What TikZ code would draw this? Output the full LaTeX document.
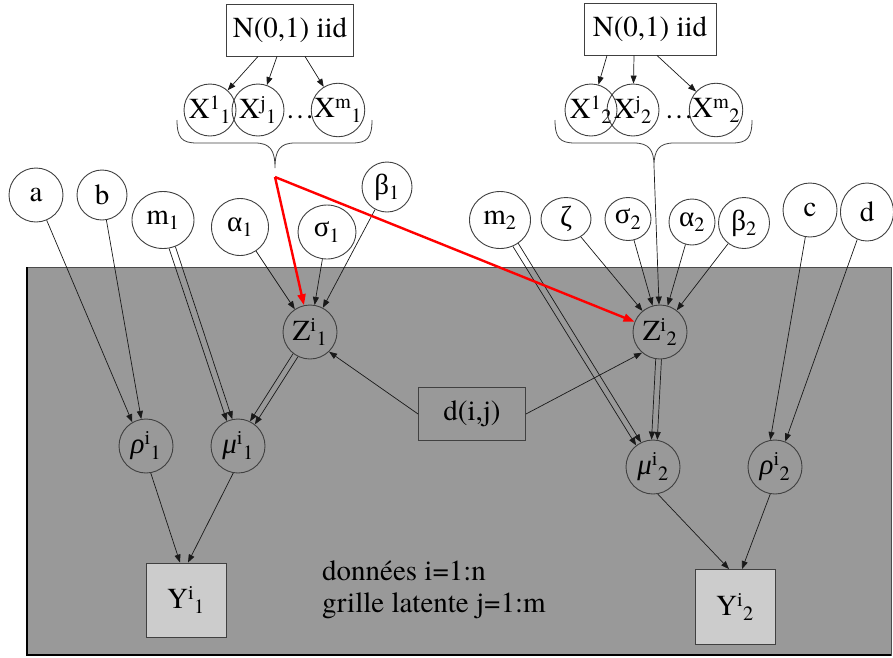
\documentclass[tikz,border=0pt]{standalone}
\usepackage{fontspec}
\setmainfont{texgyretermes}[Extension=.otf,UprightFont=*-regular,ItalicFont=*-italic,BoldFont=*-bold]
\newfontfamily\grk{Liberation Serif}
\usetikzlibrary{shapes.geometric,arrows.meta,calc}
\definecolor{bgray}{HTML}{999999}
\definecolor{ygray}{HTML}{CCCCCC}
\definecolor{edgec}{HTML}{404040}
\tikzset{
  cn/.style={circle,draw=edgec,line width=0.9pt,inner sep=0pt,minimum size=#1},
  en/.style 2 args={ellipse,draw=edgec,line width=0.9pt,inner sep=0pt,minimum width=#1,minimum height=#2},
  bx/.style={draw=edgec,line width=0.9pt,inner sep=0pt},
  ar/.style={-{Triangle[length=8pt,width=6pt]},line width=0.7pt,black!90},
  redar/.style={-{Triangle[length=11pt,width=8pt]},line width=2.4pt,red},
  bracec/.style={line width=0.8pt,edgec}
}
\begin{document}
\begin{tikzpicture}[x=1pt,y=-1pt,font=\fontsize{29}{32}\selectfont]
\useasboundingbox (0,0) rectangle (893,657);
% background panel
\fill[bgray] (27,267) rectangle (891,655);
\draw[line width=0.8pt,black!70] (27,267) rectangle (891,655);
\draw[line width=1.6pt,black] (27,267) -- (27,655) -- (891,655);

% top boxes
\node[bx,minimum width=127pt,minimum height=52pt] (N1) at (290,30) {N(0,1) iid};
\node[bx,minimum width=132pt,minimum height=52pt] (N2) at (650,29) {N(0,1) iid};

% X nodes
\node[cn=52pt] (x11) at (210,110) {X\textsuperscript{1}\textsubscript{1}};
\node[cn=52pt] (xj1) at (258,110) {X\textsuperscript{j}\textsubscript{1}};
\node (dots1) at (300,117) {…};
\node[cn=52pt] (xm1) at (338,110) {X\textsuperscript{m}\textsubscript{1}};
\node[cn=52pt] (x12) at (591,110) {X\textsuperscript{1}\textsubscript{2}};
\node[cn=52pt] (xj2) at (633,110) {X\textsuperscript{j}\textsubscript{2}};
\node (dots2) at (679,117) {…};
\node[cn=52pt] (xm2) at (716,110) {X\textsuperscript{m}\textsubscript{2}};

% braces
\draw[bracec] (177,120) .. controls (177,138) and (182,143) .. (197,143) -- (255,143)
  .. controls (270,143) and (275,150) .. (275,168)
  .. controls (275,150) and (280,143) .. (295,143) -- (352,143)
  .. controls (367,143) and (372,138) .. (372,120);
\draw[bracec] (555,120) .. controls (555,138) and (560,143) .. (575,143) -- (634,143)
  .. controls (649,143) and (654,150) .. (654,166)
  .. controls (654,150) and (659,143) .. (674,143) -- (732,143)
  .. controls (747,143) and (752,138) .. (752,120);
\coordinate (b1tip) at (275,177);
\coordinate (b2tip) at (654,166);

% parameter nodes
\node[cn=54pt] (a) at (36,195) {a};
\node[cn=50pt] (b) at (102,195) {b};
\node[en={62pt}{57pt}] (m1) at (163,220) {m\textsubscript{1}};
\node[cn=57pt] (al1) at (240,227) {{\grk α}\textsubscript{1}};
\node[en={58pt}{54pt}] (si1) at (327,232) {{\grk σ}\textsubscript{1}};
\node[cn=50pt] (be1) at (387,187) {{\grk β}\textsubscript{1}};
\node[en={61pt}{57pt}] (m2) at (500,220) {m\textsubscript{2}};
\node[en={50pt}{43pt}] (ze) at (566,219) {{\grk ζ}};
\node[en={46pt}{43pt}] (si2) at (628,219) {{\grk σ}\textsubscript{2}};
\node[cn=46pt] (al2) at (692,222) {{\grk α}\textsubscript{2}};
\node[cn=51pt] (be2) at (744,223) {{\grk β}\textsubscript{2}};
\node[cn=54pt] (c) at (810,210) {c};
\node[en={53pt}{58pt}] (d) at (867,212) {d};

% inner nodes
\node[cn=54pt] (Z1) at (310,332) {Z\textsuperscript{i}\textsubscript{1}};
\node[cn=54pt] (Z2) at (660,332) {Z\textsuperscript{i}\textsubscript{2}};
\node[cn=54pt] (rho1) at (146,446) {{\grk\itshape ρ}\textsuperscript{i}\textsubscript{1}};
\node[cn=54pt] (mu1) at (238,446) {{\grk\itshape μ}\textsuperscript{i}\textsubscript{1}};
\node[cn=54pt] (mu2) at (653,467) {{\grk\itshape μ}\textsuperscript{i}\textsubscript{2}};
\node[cn=54pt] (rho2) at (775,467) {{\grk\itshape ρ}\textsuperscript{i}\textsubscript{2}};
\node[bx,minimum width=107pt,minimum height=53pt] (dij) at (472,414) {d(i,j)};
\node[bx,fill=ygray,minimum width=80pt,minimum height=74pt] (Y1) at (186,600) {Y\textsuperscript{i}\textsubscript{1}};
\node[bx,fill=ygray,minimum width=80pt,minimum height=75pt] (Y2) at (735,607) {Y\textsuperscript{i}\textsubscript{2}};
\node[anchor=west,align=left,inner sep=0pt] (txt) at (322,590) {données i=1:n\\grille latente j=1:m};

% edges: N -> X
\draw[ar] ([xshift=-32pt]N1.south) -- (x11);
\draw[ar] ([xshift=-13pt]N1.south) -- (xj1);
\draw[ar] ([xshift=15pt]N1.south) -- (xm1);
\draw[ar] ([xshift=-43pt]N2.south) -- (x12);
\draw[ar] ([xshift=-16pt]N2.south) -- (xj2);
\draw[ar] ([xshift=7pt]N2.south) -- (xm2);

% into Z1
\draw[ar] (al1) -- (Z1);
\draw[ar] (si1) -- (Z1);
\draw[ar] (be1) -- (Z1);
\draw[ar] (dij.west) -- (Z1.-46);
% into Z2
\draw[ar] (b2tip) -- (Z2);
\draw[ar] (ze) -- (Z2);
\draw[ar] (si2) -- (Z2);
\draw[ar] (al2) -- (Z2);
\draw[ar] (be2) -- (Z2);
\draw[ar] (dij.east) -- (Z2.-131);

% rho / mu
\draw[ar] (a) -- (rho1.120);
\draw[ar] (b) -- (rho1.100);
\draw[ar] (m1.-65) -- (mu1.102);
\draw[ar] (m1.-78) -- (mu1.114);
\draw[ar] (Z1.-116) -- (mu1.52);
\draw[ar] (Z1.-128) -- (mu1.64);
\draw[ar] (m2.-52) -- (mu2.116);
\draw[ar] (m2.-64) -- (mu2.128);
\draw[ar] (Z2.-87) -- (mu2.81);
\draw[ar] (Z2.-99) -- (mu2.93);
\draw[ar] (c) -- (rho2.100);
\draw[ar] (d) -- (rho2.68);

% to Y
\draw[ar] (rho1.-80) -- ([xshift=-6pt]Y1.north);
\draw[ar] (mu1.-100) -- ([xshift=2pt]Y1.north);
\draw[ar] (mu2.-80) -- ([xshift=-6pt]Y2.north);
\draw[ar] (rho2.-100) -- ([xshift=7pt]Y2.north);

% red arrows
\draw[redar] (b1tip) -- (Z1);
\draw[redar] (b1tip) -- (Z2);
\end{tikzpicture}
\end{document}
